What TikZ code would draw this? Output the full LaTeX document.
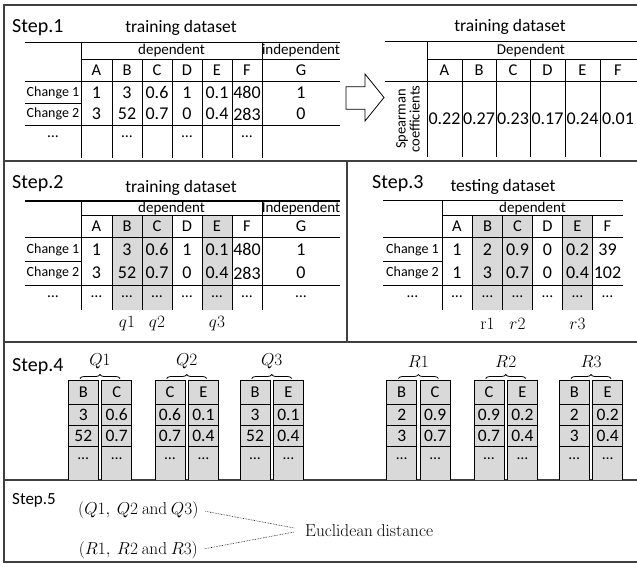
\documentclass[tikz,border=0pt]{standalone}
\usepackage[no-math]{fontspec}
\setmainfont{Carlito}
\usetikzlibrary{positioning}
\usetikzlibrary{decorations.pathreplacing}

\begin{document}
\begin{tikzpicture}[x=1pt,y=-1pt,every node/.style={inner sep=0pt},
  steplabel/.style={anchor=base west,font=\fontsize{20}{24}\selectfont},
  titletext/.style={anchor=base,font=\fontsize{17.5}{21}\selectfont},
  celltext/.style={font=\fontsize{14}{16}\selectfont},
  grouptext/.style={font=\fontsize{15}{17}\selectfont},
  cellhead/.style={font=\fontsize{16.5}{19}\selectfont},
  cellnum/.style={font=\fontsize{18}{20}\selectfont},
  celldots/.style={font=\fontsize{15.5}{17}\selectfont,text height=2.2pt,text depth=0pt},
  cmtext/.style={font=\fontsize{16}{19}\selectfont},
  frameline/.style={line width=1.2pt,draw=black!75},
  boxrule/.style={line width=1.1pt},
  gridline/.style={line width=0.8pt},
  shadecol/.style={fill=black!15}]
	\useasboundingbox (0,0) rectangle (637,566);
	% frame and dividers
	\draw[frameline] (640,5) -- (4,5) -- (4,562) -- (640,562);
	\draw[frameline] (4,161) -- (640,161) (4,342) -- (640,342) (4,480) -- (640,480) (347,161) -- (347,342);

	% Step.1
	\node[steplabel] (s1) at (12,32.5) {Step.1};
	\node[titletext] (s1train) at (181,32) {training dataset};
	\draw[boxrule] (25,42.7) -- (340,42.7) (25,81.7) -- (340,81.7);
	\draw[gridline] (81,59) -- (340,59) (25,103.5) -- (81,103.5) (25,125) -- (340,125);
	\draw[gridline] (81,42.7) -- (81,158) (262,42.7) -- (262,158);
	\foreach \x in {112,142,172,202,232} \draw[gridline] (\x,59) -- (\x,158);
	\node[grouptext] (t1dep) at (171.5,50.5) {dependent};
	\node[grouptext] (t1ind) at (301,50.5) {independent};
	\node[celltext] (t1ch1) at (53,92.5) {Change 1};
	\node[celltext] (t1ch2) at (53,114) {Change 2};
	\foreach \c/\x/\u/\v in {A/96.5/1/3,B/127/3/52,C/157/0.6/0.7,D/187/1/0,E/217/0.1/0.4,F/247/480/283,G/301/1/0} {
		\node[cellhead] (t1h\c) at (\x,70) {\c};
		\node[cellnum] (t1a\c) at (\x,92.5) {\u};
		\node[cellnum] (t1b\c) at (\x,114) {\v};
	}
	\foreach \c/\x in {L/53,B/127,D/187,F/247} \node[celldots] (t1e\c) at (\x,136) {…};

	% arrow
	\draw[gridline] (346,86.7) -- (365,86.7) -- (365,74) -- (384,97.5) -- (365,121) -- (365,109.3) -- (346,109.3) -- cycle;

	\node[titletext] (s1train2) at (510,31.7) {training dataset};
	\draw[boxrule] (385,41.7) -- (640,41.7) (385,81.7) -- (640,81.7);
	\draw[gridline] (427,59) -- (640,59) (427,41.7) -- (427,157);
	\foreach \x in {462,496,530,565,600} \draw[gridline] (\x,59) -- (\x,157);
	\node[grouptext] (t2dep) at (531,50.5) {Dependent};
	\node[rotate=90,align=center,font=\fontsize{14.5}{14}\selectfont] (t2lab) at (408,119) {Spearman\\coefficients};
	\foreach \c/\x/\v in {A/444.5/0.22,B/479/0.27,C/513/0.23,D/547.5/0.17,E/582.5/0.24,F/618/0.01} {
		\node[cellhead] (t2h\c) at (\x,70) {\c};
		\node[cellnum] (t2v\c) at (\x,119) {\v};
	}

	% Step.2
	\node[steplabel] (s2) at (12,188.3) {Step.2};
	\node[titletext] (s2train) at (181,192.7) {training dataset};
	\fill[shadecol] (112,215) rectangle (172,310) (202,215) rectangle (232,310);
	\draw[boxrule] (25,201) -- (340,201) (25,237.7) -- (340,237.7);
	\draw[gridline] (81,215) -- (340,215) (25,261) -- (81,261) (25,285) -- (340,285);
	\draw[gridline] (81,201) -- (81,310) (262,201) -- (262,310);
	\foreach \x in {112,142,172,202,232} \draw[gridline] (\x,215) -- (\x,310);
	\node[grouptext] (t3dep) at (171.5,208) {dependent};
	\node[grouptext] (t3ind) at (301,208) {Independent};
	\node[celltext] (t3ch1) at (53,249.5) {Change 1};
	\node[celltext] (t3ch2) at (53,273) {Change 2};
	\node[celldots] (t3eL) at (53,296) {…};
	\foreach \c/\x/\u/\v in {A/96.5/1/3,B/127/3/52,C/157/0.6/0.7,D/187/1/0,E/217/0.1/0.4,F/247/480/283,G/301/1/0} {
		\node[cellhead] (t3h\c) at (\x,226.5) {\c};
		\node[cellnum] (t3a\c) at (\x,249.5) {\u};
		\node[cellnum] (t3b\c) at (\x,273) {\v};
		\node[celldots] (t3e\c) at (\x,296) {…};
	}
	\node[cmtext] (q1) at (127,324) {$q1$};
	\node[cmtext] (q2) at (157,324) {$q2$};
	\node[cmtext] (q3) at (217,324) {$q3$};

	% Step.3
	\node[steplabel] (s3) at (372,188.3) {Step.3};
	\node[titletext] (s3test) at (503,191) {testing dataset};
	\fill[shadecol] (472.5,215) rectangle (532.5,310) (562.5,215) rectangle (592.5,310);
	\draw[boxrule] (383,200.5) -- (623,200.5) (383,237.7) -- (623,237.7);
	\draw[gridline] (442,215) -- (623,215) (383,261) -- (442,261) (383,285) -- (623,285);
	\draw[gridline] (442,200.5) -- (442,310);
	\foreach \x in {472.5,502.5,532.5,562.5,592.5} \draw[gridline] (\x,215) -- (\x,310);
	\node[grouptext] (t4dep) at (532.5,208) {dependent};
	\node[celltext] (t4ch1) at (412.5,249.5) {Change 1};
	\node[celltext] (t4ch2) at (412.5,273) {Change 2};
	\node[celldots] (t4eL) at (412.5,296) {…};
	\foreach \c/\x/\u/\v in {A/457/1/1,B/487.5/2/3,C/517.5/0.9/0.7,D/547.5/0/0,E/577.5/0.2/0.4,F/607.5/39/102} {
		\node[cellhead] (t4h\c) at (\x,226.5) {\c};
		\node[cellnum] (t4a\c) at (\x,249.5) {\u};
		\node[cellnum] (t4b\c) at (\x,273) {\v};
		\node[celldots] (t4e\c) at (\x,296) {…};
	}
	\node[cmtext] (r1) at (487.5,324) {$\mathrm{r}1$};
	\node[cmtext] (r2) at (517.5,324) {$r2$};
	\node[cmtext] (r3) at (577.5,324) {$r3$};

	% Step.4
	\node[steplabel] (s4) at (12,371.7) {Step.4};
	\foreach \n/\x/\ha/\hb/\ua/\ub/\va/\vb in {Q1/68.3/B/C/3/0.6/52/0.7,Q2/155/C/E/0.6/0.1/0.7/0.4,Q3/240/B/E/3/0.1/52/0.4,R1/386.7/B/C/2/0.9/3/0.7,R2/474/C/E/0.9/0.2/0.7/0.4,R3/559.3/B/E/2/0.2/3/0.4} {
		\foreach \k/\dx/\h/\u/\v in {0/0/\ha/\ua/\va,1/33.4/\hb/\ub/\vb} {
			\draw[gridline,shadecol] (\x+\dx,480) -- (\x+\dx,380) -- (\x+\dx+30,380) -- (\x+\dx+30,480);
			\draw[gridline] (\x+\dx,404) -- ++(30,0) (\x+\dx,425.7) -- ++(30,0) (\x+\dx,446.7) -- ++(30,0);
			\node[cellhead] (\n-h\k) at (\x+\dx+15,392) {\h};
			\node[cellnum,font=\fontsize{17.5}{19}\selectfont] (\n-a\k) at (\x+\dx+15,415) {\u};
			\node[cellnum,font=\fontsize{17.5}{19}\selectfont] (\n-b\k) at (\x+\dx+15,436.2) {\v};
			\node[celldots] (\n-e\k) at (\x+\dx+15,458) {…};
		}
		\node[cmtext] (\n-lab) at (\x+31.7,361.7) {$\n$};
		\draw[decorate,decoration={brace,amplitude=4pt},gridline] (\x+11.7,378.5) -- (\x+51.7,378.5);
	}

	% Step.5
	\node[steplabel,font=\fontsize{17}{20}\selectfont] (s5) at (12,504.3) {Step.5};
	\node[cmtext] (qset) at (138.3,510) {$(Q1,\ Q2\ \mathrm{and}\ Q3)$};
	\node[cmtext] (rset) at (138.3,550) {$(R1,\ R2\ \mathrm{and}\ R3)$};
	\node[cmtext,anchor=west,font=\fontsize{17}{20}\selectfont] (euclid) at (305,530) {$\mathrm{Euclidean\ distance}$};
	\draw[densely dotted,line width=0.6pt,shorten <=7pt,shorten >=11pt] (qset.east) -- (euclid.west);
	\draw[densely dotted,line width=0.6pt,shorten <=7pt,shorten >=11pt] (rset.east) -- (euclid.west);
\end{tikzpicture}
\end{document}
